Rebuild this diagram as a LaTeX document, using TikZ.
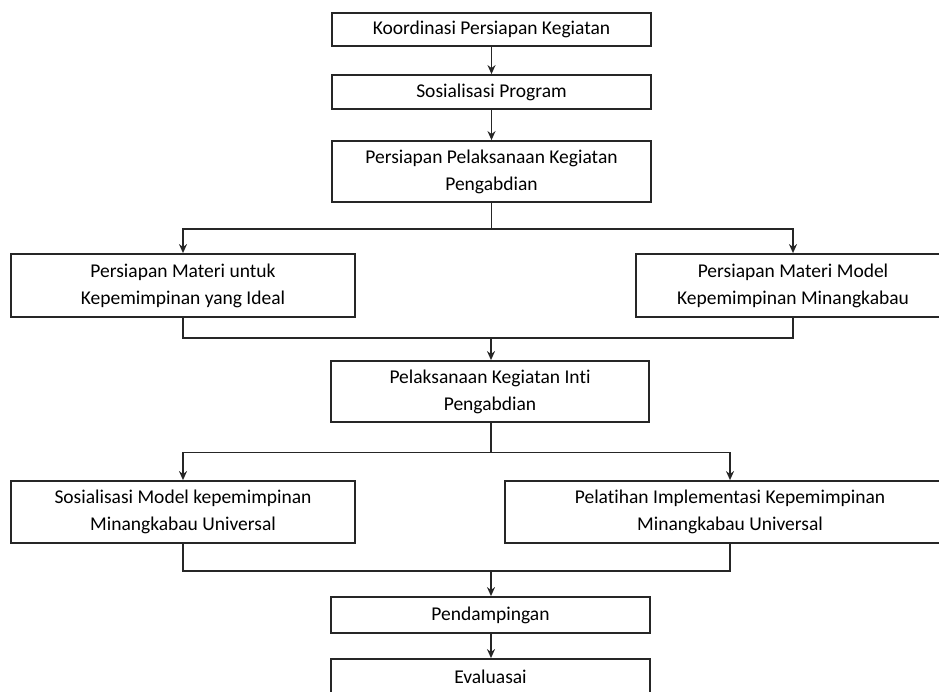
\documentclass[tikz,border=0pt]{standalone}
\usepackage{fontspec}
\setmainfont{Carlito}[Ligatures=NoCommon]
\usetikzlibrary{arrows.meta}
\begin{document}
\begin{tikzpicture}[x=1pt,y=-1pt,
  box/.style={draw=black!85,line width=1.8pt,fill=white,align=center,inner sep=0pt,
    font=\fontsize{19.5}{27}\selectfont,text=black},
  link/.style={draw=black!85,line width=1.8pt},
  arr/.style={link,-{Stealth[length=9pt,width=8pt]}}]
\useasboundingbox (0,0) rectangle (939,691);
\node[box,minimum width=319pt,minimum height=33pt] (k1) at (491.5,29.5) {Koordinasi Persiapan Kegiatan};
\node[box,minimum width=319pt,minimum height=34pt] (k2) at (491.5,92) {Sosialisasi Program};
\node[box,minimum width=319pt,minimum height=61pt] (k3) at (491.5,171.5) {Persiapan Pelaksanaan Kegiatan\\Pengabdian};
\node[box,minimum width=344pt,minimum height=63pt] (l1) at (183,285.5) {Persiapan Materi untuk\\Kepemimpinan yang Ideal};
\node[box,minimum width=314pt,minimum height=63pt] (r1) at (793,285.5) {Persiapan Materi Model\\Kepemimpinan Minangkabau};
\node[box,minimum width=318pt,minimum height=61pt] (k4) at (490,391.5) {Pelaksanaan Kegiatan Inti\\Pengabdian};
\node[box,minimum width=344pt,minimum height=62pt] (l2) at (183,512) {Sosialisasi Model kepemimpinan\\Minangkabau Universal};
\node[box,minimum width=450pt,minimum height=62pt] (r2) at (730,512) {Pelatihan Implementasi Kepemimpinan\\Minangkabau Universal};
\node[box,minimum width=319pt,minimum height=36pt] (k5) at (490.5,615) {Pendampingan};
\node[box,minimum width=319pt,minimum height=36pt] (k6) at (490.5,677) {Evaluasai};
\coordinate (j1) at (491.5,229);
\coordinate (m1) at (491,338);
\coordinate (j2) at (491,452.5);
\coordinate (m2) at (491,571);
\draw[arr] (k1) -- (k2);
\draw[arr] (k2) -- (k3);
\draw[link] (k3.south) -- (j1);
\draw[arr] (j1) -| (l1.north);
\draw[arr] (j1) -| (r1.north);
\draw[link] (l1.south) |- (m1);
\draw[link] (r1.south) |- (m1);
\draw[arr] (m1) -- (m1 |- k4.north);
\draw[link] (k4.south -| j2) -- (j2);
\draw[arr] (j2) -| (l2.north);
\draw[arr] (j2) -| (r2.north);
\draw[link] (l2.south) |- (m2);
\draw[link] (r2.south) |- (m2);
\draw[arr] (m2) -- (m2 |- k5.north);
\draw[arr] (k5.south -| m2) -- (m2 |- k6.north);
\end{tikzpicture}
\end{document}
